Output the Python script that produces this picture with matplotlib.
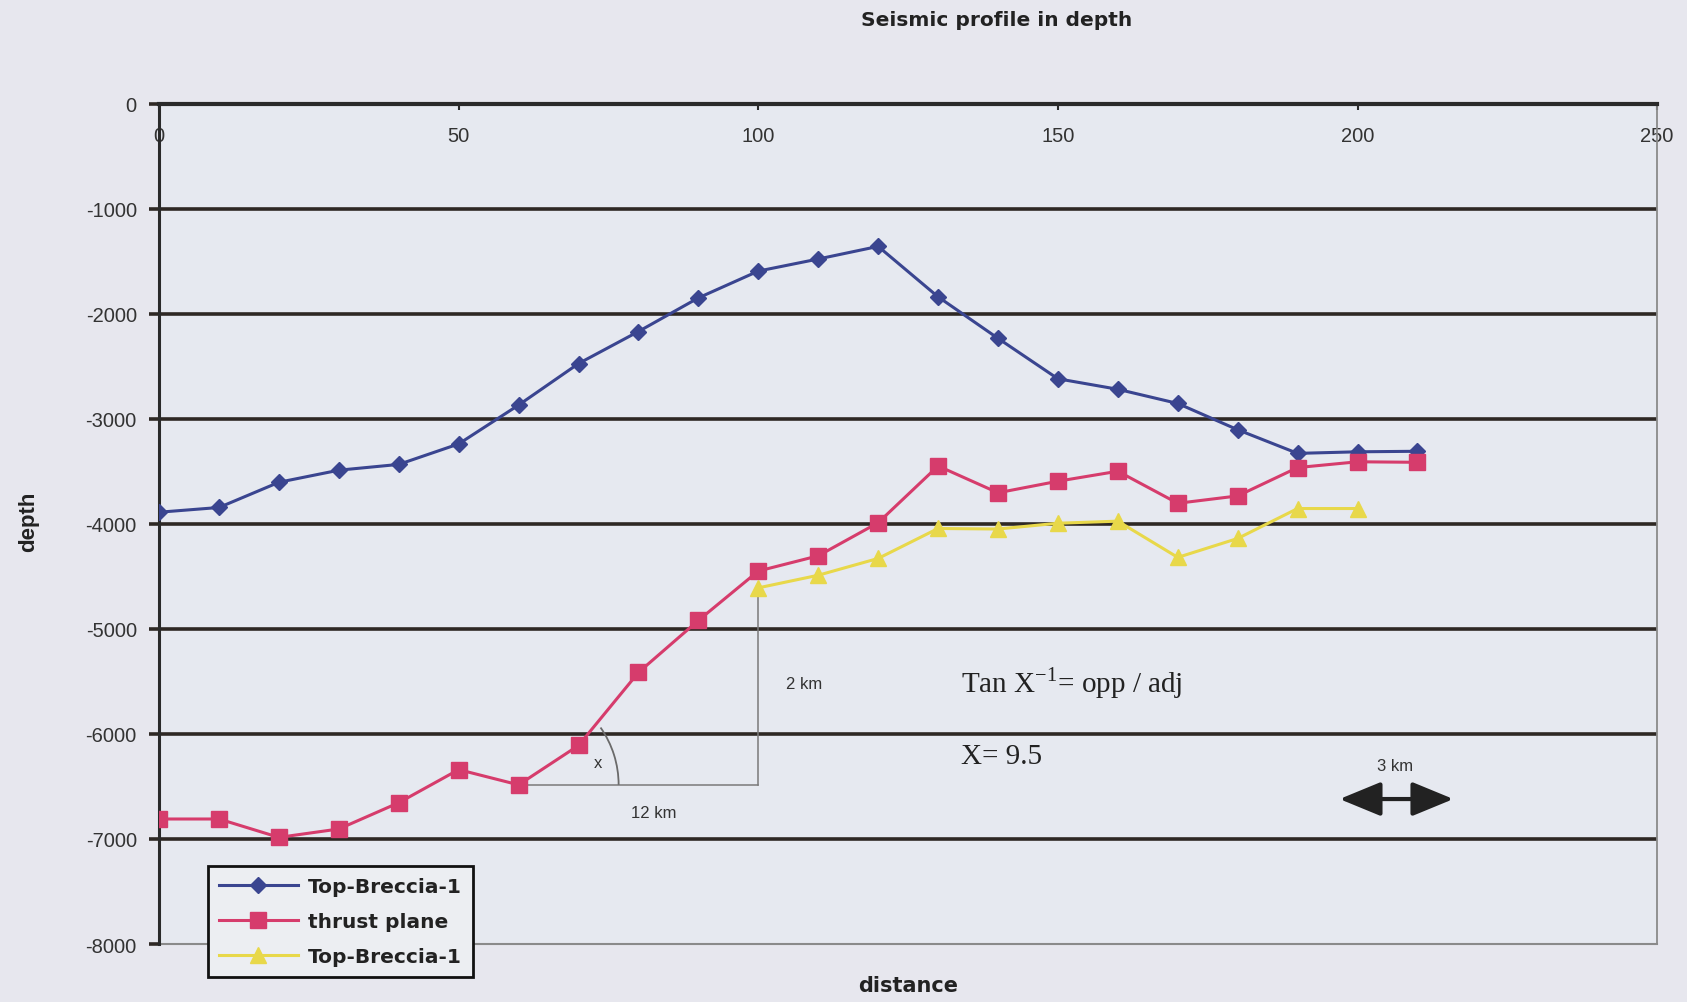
import math
import matplotlib.pyplot as plt
from matplotlib.patches import Arc

plt.rcParams['font.family'] = ['Liberation Sans', 'DejaVu Sans']
plt.rcParams['axes.unicode_minus'] = False

# distance along the profile and picked horizons (depth)
distance = list(range(0, 220, 10))
top_breccia = [-3890, -3845, -3605, -3490, -3435, -3240, -2870, -2475, -2170, -1850, -1595,
               -1480, -1360, -1840, -2235, -2620, -2720, -2855, -3105, -3330, -3315, -3310]
thrust_plane = [-6810, -6810, -6985, -6905, -6655, -6340, -6485, -6110, -5415, -4920, -4450,
                -4305, -3990, -3450, -3705, -3595, -3500, -3805, -3735, -3465, -3410, -3415]
distance_b = list(range(100, 210, 10))
top_breccia_b = [-4610, -4490, -4330, -4045, -4050, -3995, -3975, -4320, -4140, -3855, -3855]

y_ticks = list(range(-8000, 1, 1000))
x_ticks = [0, 50, 100, 150, 200, 250]

blue = '#3a4590'
red = '#d63c6c'
yellow = '#e8d84a'
grid_col = '#2e2824'
wide = ['DejaVu Sans']

fig = plt.figure(figsize=(16.87, 10.03), dpi=100, facecolor='#e7e7ee')
ax = fig.add_axes([0.0943, 0.0578, 0.888, 0.838])
ax.set_facecolor('#e6e9f0')
ax.set_xlim(0, 250)
ax.set_ylim(-8000, 0)

# horizontal grid
for v in y_ticks[1:-1]:
    ax.axhline(v, color=grid_col, lw=2.6, zorder=1)
ax.axhline(-8000, color='#8a8a8a', lw=1.5, clip_on=False, zorder=1)

# axis crossing at depth 0 (top)
ax.spines['bottom'].set_position(('data', 0))
ax.spines['bottom'].set_color('#2a2a2a')
ax.spines['bottom'].set_linewidth(3)
ax.spines['top'].set_visible(False)
ax.spines['left'].set_color('#2a2a2a')
ax.spines['left'].set_linewidth(2.2)
ax.spines['right'].set_color('#8a8a8a')
ax.spines['right'].set_linewidth(1.3)

ax.set_xticks(x_ticks)
ax.set_yticks(y_ticks)
ax.tick_params(axis='x', direction='out', length=4, width=1.5, pad=12,
               labelsize=14.5, labelcolor='#333333', color='#2a2a2a')
ax.tick_params(axis='y', direction='out', length=7, width=2.6, pad=9,
               labelsize=14.5, labelcolor='#333333', color=grid_col)

ln1, = ax.plot(distance, top_breccia, color=blue, lw=2.2, marker='D', ms=8,
               label='Top-Breccia-1', zorder=4)
ln2, = ax.plot(distance, thrust_plane, color=red, lw=2.2, marker='s', ms=11,
               label='thrust plane', zorder=4)
ln3, = ax.plot(distance_b, top_breccia_b, color=yellow, lw=2.2, marker='^', ms=11,
               label='Top-Breccia-1', zorder=4)

# dip construction on the thrust plane
x0, y0 = distance[6], thrust_plane[6]
x1, y1 = distance_b[0], top_breccia_b[0]
ax.plot([x0, x1], [y0, y0], color='#7a7a7a', lw=1.1, zorder=3)
ax.plot([x1, x1], [y0, y1], color='#7a7a7a', lw=1.1, zorder=3)
px_x = 1498 / 250
px_y = 841 / 8000
r = 100
# arc angle given on screen, converted to data angle
theta_end = math.degrees(math.atan(math.tan(math.radians(35)) * px_x / px_y))
ax.add_patch(Arc((x0, y0), 2 * r / px_x, 2 * r / px_y, theta1=0, theta2=theta_end,
                 color='#6a6a6a', lw=1.3, zorder=3))
ax.text(73.3, -6275, 'x', fontsize=12, ha='center', va='center', color='#333333')
ax.text(82.5, -6745, '12 km', fontsize=12, ha='center', va='center', color='#333333')
ax.text(107.6, -5525, '2 km', fontsize=12, ha='center', va='center', color='#333333')

ax.text(133.8, -5505, 'Tan X$^{\\mathregular{-1}}$= opp / adj', family='Liberation Serif',
        fontsize=21, ha='left', va='center', color='#222222')
ax.text(133.8, -6210, 'X= 9.5', family='Liberation Serif',
        fontsize=21, ha='left', va='center', color='#222222')

# scale bar
ax.annotate('', xy=(216, -6620), xytext=(197, -6620),
            arrowprops=dict(arrowstyle='<|-|>,head_length=0.85,head_width=0.35',
                            mutation_scale=30, lw=3, color='#222222',
                            shrinkA=0, shrinkB=0))
ax.text(206.3, -6300, '3 km', fontsize=12, ha='center', va='center', color='#333333')

leg = ax.legend(handles=[ln1, ln2, ln3], loc='upper left',
                bbox_to_anchor=(208 / 1687, 1 - 867 / 1003), bbox_transform=fig.transFigure,
                borderaxespad=0, fancybox=False, framealpha=1, facecolor='#eceef2',
                edgecolor='#111111', handlelength=3.9, labelspacing=0.8, handletextpad=0.5,
                prop={'family': wide, 'size': 14.5, 'weight': 'bold'}, borderpad=0.55)
leg.get_frame().set_linewidth(2)
for t in leg.get_texts():
    t.set_color('#222222')

fig.text(997 / 1687, 1 - 20 / 1003, 'Seismic profile in depth', ha='center', va='center',
         family=wide, fontsize=14.5, weight='bold', color='#222222')
ax.text(0.5, -0.049, 'distance', transform=ax.transAxes, ha='center', va='center',
        family=wide, fontsize=15, weight='bold', color='#222222')
ax.text(-0.0868, 0.503, 'depth', transform=ax.transAxes, ha='center', va='center',
        rotation=90, fontsize=16, weight='bold', color='#222222')

fig.savefig('out.png', dpi=100, facecolor=fig.get_facecolor())
